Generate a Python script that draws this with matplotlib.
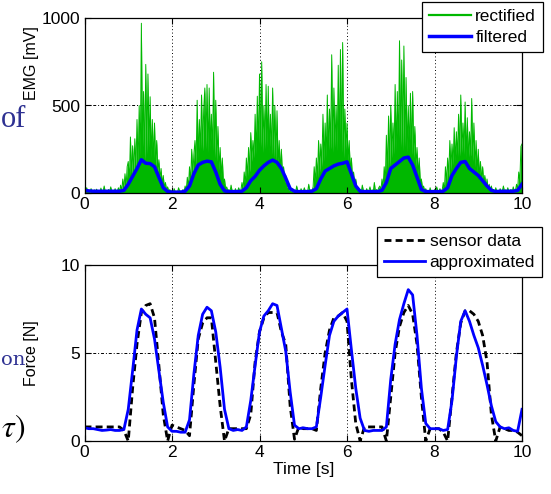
import matplotlib
matplotlib.use('Agg')
import matplotlib.pyplot as plt
from matplotlib.lines import Line2D
import numpy as np

plt.rcParams['font.family'] = ['Liberation Sans', 'DejaVu Sans']
plt.rcParams['mathtext.fontset'] = 'stix'

# ---------------- data ----------------
x_ticks = [0, 2, 4, 6, 8, 10]
emg_yticks = [0, 500, 1000]
force_yticks = [0, 5, 10]

# rectified EMG [mV], sampled every 0.025 s from 0 to 10 s
rectified = [
    20, 5, 30, 8, 15, 3, 25, 10, 6, 18,
    4, 22, 9, 14, 3, 28, 6, 12, 40, 5,
    15, 4, 20, 7, 35, 3, 12, 8, 25, 5,
    10, 30, 6, 45, 12, 80, 20, 110, 35, 150,
    180, 60, 320, 90, 270, 110, 310, 130, 420, 150,
    500, 200, 970, 250, 580, 180, 735, 220, 680, 260,
    550, 200, 420, 180, 400, 150, 300, 120, 190, 80,
    140, 50, 100, 30, 60, 15, 35, 8, 20, 5,
    15, 4, 25, 6, 10, 3, 30, 8, 12, 5,
    20, 6, 40, 15, 90, 30, 150, 60, 250, 100,
    220, 300, 150, 530, 200, 420, 230, 560, 240, 480,
    600, 250, 620, 230, 600, 260, 450, 220, 690, 200,
    530, 180, 380, 130, 260, 90, 200, 50, 80, 20,
    35, 8, 20, 5, 45, 10, 15, 4, 25, 6,
    12, 30, 5, 18, 60, 20, 120, 50, 200, 90,
    260, 120, 345, 180, 300, 200, 450, 220, 553, 240,
    680, 260, 750, 230, 500, 250, 620, 260, 610, 230,
    450, 220, 600, 200, 500, 180, 470, 150, 300, 120,
    250, 90, 150, 60, 100, 30, 50, 15, 30, 8,
    20, 5, 15, 4, 40, 8, 12, 3, 25, 6,
    10, 30, 5, 15, 8, 50, 4, 20, 10, 35,
    150, 60, 200, 80, 300, 120, 280, 150, 450, 180,
    400, 200, 560, 220, 480, 250, 790, 230, 600, 260,
    500, 240, 730, 250, 820, 230, 860, 200, 480, 250,
    400, 180, 300, 120, 200, 80, 120, 40, 80, 20,
    30, 8, 20, 5, 45, 10, 15, 4, 25, 6,
    12, 35, 5, 18, 8, 60, 4, 20, 10, 30,
    40, 15, 80, 30, 150, 60, 330, 120, 440, 150,
    500, 200, 400, 220, 620, 240, 580, 250, 870, 260,
    760, 240, 840, 260, 660, 230, 500, 250, 570, 220,
    580, 200, 380, 150, 260, 100, 200, 60, 80, 25,
    40, 8, 25, 5, 15, 4, 30, 6, 12, 3,
    20, 5, 35, 10, 8, 25, 4, 15, 60, 10,
    150, 60, 200, 90, 300, 130, 280, 160, 373, 180,
    350, 200, 450, 210, 560, 230, 400, 220, 520, 200,
    430, 190, 350, 210, 540, 180, 400, 150, 300, 120,
    250, 90, 180, 70, 150, 50, 100, 30, 80, 20,
    50, 15, 40, 8, 20, 5, 30, 6, 15, 4,
    25, 6, 12, 40, 5, 18, 8, 30, 4, 15,
    20, 6, 35, 10, 15, 50, 20, 120, 60, 266,
    280,
]

# filtered EMG [mV], every 0.1 s
filtered = [
    15, 12, 10, 10, 10, 10, 10, 10, 10, 15,
    50, 95, 140, 190, 170, 168, 150, 90, 30, 8,
    5, 5, 5, 10, 40, 110, 160, 175, 182, 178,
    120, 50, 12, 8, 8, 8, 10, 30, 70, 95,
    130, 155, 175, 188, 175, 140, 85, 25, 10, 8,
    8, 8, 10, 25, 80, 125, 140, 155, 165, 170,
    178, 110, 40, 10, 8, 8, 8, 8, 15, 60,
    140, 160, 180, 200, 205, 160, 90, 20, 8, 8,
    8, 8, 10, 30, 100, 140, 175, 180, 140, 120,
    100, 70, 40, 15, 8, 10, 10, 10, 10, 15,
    50,
]

# force [N], every 0.1 s
sensor = [
    0.8, 0.8, 0.8, 0.8, 0.8, 0.8, 0.8, 0.8, 0.8, 0.6,
    0.0, 3.0, 5.5, 7.3, 7.7, 7.8, 7.0, 4.3, 1.5, 0.0,
    0.9, 0.8, 0.7, 0.6, 0.3, 3.2, 5.8, 6.7, 7.0, 7.0,
    4.5, 2.0, 0.0, 0.7, 0.7, 0.7, 0.7, 0.7, 1.5, 4.5,
    6.2, 7.0, 7.3, 7.3, 7.3, 6.2, 5.5, 2.0, 0.1, 0.8,
    0.7, 0.7, 0.7, 0.6, 3.0, 5.0, 6.3, 7.0, 7.1, 7.3,
    6.8, 3.5, 1.0, 0.0, 0.8, 0.8, 0.8, 0.8, 0.8, 0.0,
    2.5, 5.0, 6.5, 7.3, 7.7, 7.2, 5.5, 2.5, 0.0, 0.7,
    0.7, 0.7, 0.5, 0.0, 2.5, 5.0, 6.7, 7.4, 7.4, 7.2,
    6.8, 6.0, 4.5, 1.5, 0.0, 0.8, 0.7, 0.6, 0.6, 0.5,
    0.3,
]
approximated = [
    0.75, 0.7, 0.7, 0.65, 0.6, 0.62, 0.65, 0.6, 0.6, 0.65,
    1.8, 4.0, 6.3, 7.5, 7.2, 7.0, 5.8, 4.0, 2.2, 0.8,
    0.55, 0.55, 0.5, 0.5, 1.2, 3.8, 6.0, 7.2, 7.6, 7.4,
    6.2, 4.2, 1.8, 0.7, 0.6, 0.65, 0.6, 0.8, 2.3, 4.3,
    6.2, 7.1, 7.4, 7.8, 7.7, 6.4, 5.1, 2.8, 0.9, 0.7,
    0.75, 0.7, 0.7, 0.8, 2.5, 4.3, 6.0, 6.8, 7.1, 7.3,
    7.5, 5.2, 3.0, 1.3, 0.6, 0.55, 0.6, 0.6, 0.6, 0.8,
    3.5, 5.5, 6.9, 7.8, 8.6, 8.3, 6.0, 3.0, 1.0, 0.7,
    0.7, 0.7, 0.6, 0.65, 2.3, 4.8, 6.8, 7.4, 6.8, 6.0,
    5.3, 4.3, 3.2, 2.0, 1.1, 0.8, 0.7, 0.75, 0.6, 0.55,
    1.8,
]

t_rect = np.linspace(0, 10, len(rectified))
t_filt = np.linspace(0, 10, len(filtered))
t_force = np.linspace(0, 10, len(sensor))

W, H = 551, 494
fig = plt.figure(figsize=(W / 100, H / 100), dpi=100)
ax1 = fig.add_axes([84.5 / W, 1 - 193 / H, (522 - 84.5) / W, 175 / H])
ax2 = fig.add_axes([84.5 / W, 1 - 441 / H, (522 - 84.5) / W, 176 / H])

green = '#00b800'
blue = '#0000ff'


def style(ax, yticks):
    ax.set_xlim(0, 10)
    ax.set_xticks(x_ticks)
    ax.set_yticks(yticks)
    ax.set_ylim(yticks[0], yticks[-1])
    ax.tick_params(direction='in', length=4, width=0.8, labelsize=12.5,
                   pad=3, top=True, right=True)
    for s in ax.spines.values():
        s.set_linewidth(0.9)
        s.set_color('black')
    for xv in x_ticks[1:-1]:
        ax.axvline(xv, color='black', lw=0.7, ls=(0, (1, 2.5)), zorder=0.5)
    for yv in yticks[1:-1]:
        ax.axhline(yv, color='black', lw=0.7, ls=(0, (3, 2, 1, 2)), zorder=0.5)


style(ax1, emg_yticks)
style(ax2, force_yticks)

ax1.fill_between(t_rect, rectified, 0, color=green, lw=0, zorder=1)
ax1.plot(t_rect, rectified, color=green, lw=0.7, zorder=1.5)
l2, = ax1.plot(t_filt, filtered, color=blue, lw=2.5, zorder=2,
               label='filtered')
h1 = Line2D([], [], color=green, lw=1.6, label='rectified')
ax1.set_ylabel('EMG [mV]', fontsize=11.5, labelpad=2)
ax1.yaxis.set_label_coords(-0.105, 0.74)

leg1 = ax1.legend(handles=[h1, l2], loc='upper right',
                  bbox_to_anchor=(543 / W, 1 - 2 / H),
                  bbox_transform=fig.transFigure, fontsize=12.5,
                  fancybox=False, framealpha=1, edgecolor='black',
                  handlelength=2.4, handletextpad=0.25, labelspacing=0.35,
                  borderpad=0.4, borderaxespad=0)
leg1.get_frame().set_linewidth(0.9)
leg1.set_zorder(5)

l3, = ax2.plot(t_force, sensor, color='black', lw=2, dashes=(2.5, 1.5),
               zorder=1.5, label='sensor data')
l4, = ax2.plot(t_force, approximated, color=blue, lw=2, zorder=2,
               label='approximated')
ax2.set_ylabel('Force [N]', fontsize=11.5, labelpad=2)
ax2.yaxis.set_label_coords(-0.105, 0.5)
ax2.set_xlabel('Time [s]', fontsize=12.5, labelpad=1)

leg2 = ax2.legend(handles=[l3, l4], loc='upper right',
                  bbox_to_anchor=(542 / W, 1 - 227 / H),
                  bbox_transform=fig.transFigure, fontsize=12.5,
                  fancybox=False, framealpha=1, edgecolor='black',
                  handlelength=2.4, handletextpad=0.25, labelspacing=0.35,
                  borderpad=0.4, borderaxespad=0)
leg2.get_frame().set_linewidth(0.9)
leg2.set_zorder(5)

# fragments of slide text at the left edge
navy = '#2e3192'
fig.text(1 / W, 1 - 127 / H, 'of', fontsize=22, color=navy,
         family=['Liberation Serif', 'DejaVu Serif'], va='baseline', ha='left')
fig.text(1 / W, 1 - 365 / H, 'on', fontsize=14, color=navy,
         family=['DejaVu Serif'], va='baseline', ha='left')
fig.text(1 / W, 1 - 437 / H, r'$\tau)$', fontsize=23, color='black',
         va='baseline', ha='left')

fig.savefig('out.png', dpi=100)
